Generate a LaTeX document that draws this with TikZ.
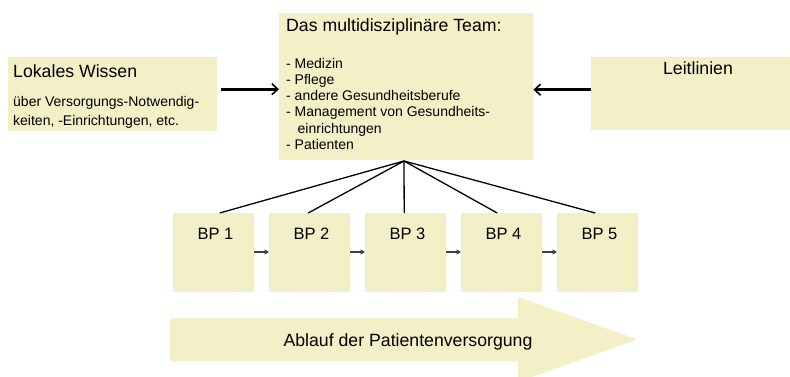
\documentclass[tikz,border=0pt]{standalone}
\usepackage{fontspec}
\setmainfont{Liberation Sans}
\usetikzlibrary{arrows.meta}
\definecolor{paper}{RGB}{243,239,199}
\tikzset{
  box/.style={fill=paper, draw=none, inner sep=0pt, anchor=north west},
  bigtxt/.style={font=\fontsize{17.7}{21}\selectfont, inner sep=0pt},
  smalltxt/.style={font=\fontsize{14}{16.4}\selectfont, inner sep=0pt, anchor=base west},
  feed/.style={line width=2.7pt, -{Straight Barb[length=6pt,width=11pt,line width=1.6pt]}},
  fan/.style={line width=1.3pt},
  flow/.style={line width=1.6pt, draw=black!75, -{Triangle[length=4.5pt,width=5pt]}}
}
\begin{document}
\begin{tikzpicture}[x=1pt,y=-1pt]
\useasboundingbox (0,0) rectangle (790,377);
\clip (0,0) rectangle (790,377);

% process flow arrow along the bottom
\fill[paper] (170,318) -- (518,318) -- (518,297) -- (637,339.5) -- (518,382)
  -- (518,361) -- (170,361) -- cycle;
\node[bigtxt, anchor=base] (flowlabel) at (408,346.7) {Ablauf der Patientenversorgung};

% knowledge sources and the team
\node[box, minimum width=209pt, minimum height=74pt] (local) at (8,57) {};
\node[box, minimum width=254pt, minimum height=147pt] (team) at (279,13) {};
\node[box, minimum width=215pt, minimum height=73pt] (guide) at (591,57) {};

\node[bigtxt, anchor=base west] (localtitle) at (13,77.3) {Lokales Wissen};
\node[smalltxt] (local1) at (13,106.5) {über Versorgungs-Notwendig-};
\node[smalltxt] (local2) at (13,126) {keiten, -Einrichtungen, etc.};

\node[bigtxt, anchor=base west] (teamtitle) at (286,31.7) {Das multidisziplinäre Team:};
\node[smalltxt] (t1) at (286,68.3) {- Medizin};
\node[smalltxt] (t2) at (286,84.5) {- Pflege};
\node[smalltxt] (t3) at (286,100.7) {- andere Gesundheitsberufe};
\node[smalltxt] (t4) at (286,116.9) {- Management von Gesundheits-};
\node[smalltxt] (t5) at (297.5,133.1) {einrichtungen};
\node[smalltxt] (t6) at (286,149.3) {- Patienten};

\node[bigtxt, anchor=base] (guidetitle) at (698,75) {Leitlinien};

\draw[feed] (local.east) ++(4,-5) coordinate (la) -- (la -| team.west);
\draw[feed] (guide.west) ++(0,-4) coordinate (ra) -- (ra -| team.east);

% treatment steps
\foreach \i/\x in {1/173,2/269,3/365,4/461,5/557}{
  \node[box, minimum width=81pt, minimum height=79pt] (bp\i) at (\x,213) {};
  \node[bigtxt, font=\fontsize{16.5}{20}\selectfont, anchor=base] (bpl\i) at (\x+42.5,239.3) {BP \i};
}

\coordinate (apex) at (404,161);
\draw[fan] (apex) -- ([xshift=6pt]bp1.north);
\draw[fan] (apex) -- ([xshift=-1.5pt]bp2.north);
\draw[fan] (apex) -- ([xshift=-1.5pt]bp3.north);
\draw[fan] (apex) -- ([xshift=-4.5pt]bp4.north);
\draw[fan] (apex) -- ([xshift=-2.5pt]bp5.north);

\foreach \a/\b in {1/2,2/3,3/4,4/5}{
  \draw[flow] ([yshift=-39pt]bp\a.north east) -- ([yshift=-39pt]bp\b.north west);
}
\end{tikzpicture}
\end{document}
